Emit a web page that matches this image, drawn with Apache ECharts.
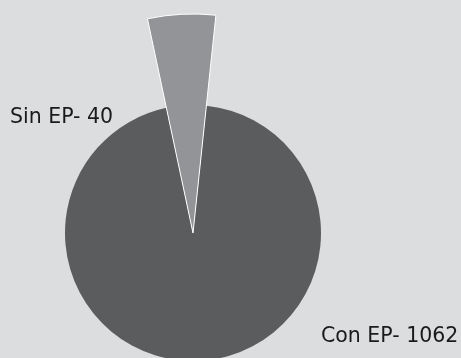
<!DOCTYPE html>
<html>
<head>
<meta charset="utf-8">
<script src="https://cdn.jsdelivr.net/npm/echarts@6/dist/echarts.min.js"></script>
<style>
  html, body { margin: 0; padding: 0; background: #dcdddf; }
  #chart { width: 461px; height: 358px; }
</style>
</head>
<body>
<div id="chart"></div>
<script>
// datos del grafico
const categories = ['Sin EP', 'Con EP']
const values = [40, 1062]
const colors = ['#939497', '#5b5c5e']

const chart = echarts.init(document.getElementById('chart'))

// posiciones de las etiquetas
const labelPos = {
  'Sin EP': { x: 10, y: 117.5, align: 'left' },
  'Con EP': { x: 321, y: 336.5, align: 'left' }
}

// una serie por sector, porque el sector pequeño tiene otro radio
const makeSeries = (shownIdx, radius) => ({
  type: 'pie',
  center: [193, 233],
  radius: radius,
  startAngle: 102,
  minAngle: 18,
  clockwise: true,
  silent: true,
  animation: false,
  avoidLabelOverlap: false,
  labelLine: { show: false },
  labelLayout: (params) => {
    const p = labelPos[categories[params.dataIndex]]
    return { x: p.x, y: p.y, align: p.align, verticalAlign: 'middle' }
  },
  data: categories.map((name, i) => ({
    name: name,
    value: values[i],
    itemStyle: i === shownIdx
      ? { color: colors[i], borderColor: i === 0 ? '#ffffff' : 'transparent', borderWidth: i === 0 ? 1 : 0 }
      : { color: 'transparent', borderWidth: 0 },
    label: {
      show: i === shownIdx,
      formatter: '{b}- {c}',
      fontFamily: 'DejaVu Sans',
      fontSize: 20.5,
      color: '#1a1a1a'
    }
  }))
})

const option = {
  backgroundColor: '#dcdddf',
  series: [
    makeSeries(1, 128),
    makeSeries(0, 219)
  ]
}

chart.setOption(option)
</script>
</body>
</html>
